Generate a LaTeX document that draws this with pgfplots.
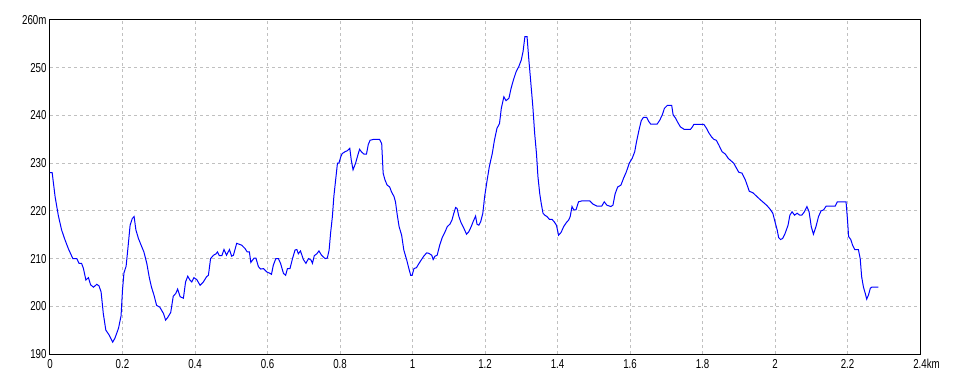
\documentclass[border=0pt]{standalone}
\usepackage{fontspec}
\setmainfont{Liberation Sans}[FakeStretch=0.75]
\usepackage{pgfplots}
\pgfplotsset{compat=1.18}
\definecolor{gridgray}{RGB}{192,192,192}
\begin{document}
\begin{tikzpicture}[x=1bp,y=1bp]
\path[use as bounding box] (-50,-30) rectangle (910,354);
\begin{axis}[at={(0,0)}, anchor=south west, scale only axis,
  width=870bp, height=334bp,
  xmin=0, xmax=2.4, ymin=190, ymax=260,
  xtick={0,0.2,0.4,0.6,0.8,1,1.2,1.4,1.6,1.8,2,2.2,2.4},
  xticklabels={0,0.2,0.4,0.6,0.8,1,1.2,1.4,1.6,1.8,2,2.2,2.4\rlap{km}},
  ytick={190,200,210,220,230,240,250,260},
  yticklabels={190,200,210,220,230,240,250,260m},
  grid=major,
  major grid style={gridgray, line width=1bp, dash pattern=on 3bp off 3bp},
  major tick length=0pt,
  axis line style={black, line width=1bp},
  tick label style={font=\fontsize{13}{13}\selectfont, black},
  xticklabel style={yshift=-2bp},
]
\addplot[blue, line width=1bp, no marks, sharp plot] coordinates {
(0.000,228) (0.006,228) (0.014,223) (0.023,219) (0.032,216) (0.041,214) (0.051,212) (0.057,211) (0.063,210) (0.074,210) (0.080,209) (0.087,209) (0.092,208) (0.099,205.5) (0.106,206) (0.112,204.5) (0.120,204) (0.129,204.6) (0.135,204.3) (0.141,203) (0.147,198.5) (0.154,195) (0.163,194) (0.173,192.5) (0.179,193.3) (0.189,195.4) (0.196,198) (0.200,203.4) (0.204,207) (0.210,208.4) (0.216,213) (0.221,217) (0.227,218.4) (0.232,218.8) (0.237,216) (0.244,214.2) (0.253,212.5) (0.259,211.4) (0.267,209) (0.274,206) (0.280,204) (0.287,202.3) (0.294,200.2) (0.303,199.8) (0.313,198.5) (0.319,197.1) (0.325,197.7) (0.333,198.7) (0.340,202.1) (0.347,202.7) (0.352,203.6) (0.359,202) (0.368,201.7) (0.374,205.1) (0.380,206.3) (0.386,205.5) (0.391,205.1) (0.397,206) (0.405,205.6) (0.414,204.4) (0.423,205.1) (0.432,206.2) (0.437,206.5) (0.443,210) (0.451,210.7) (0.458,211) (0.462,211.4) (0.467,210.6) (0.474,210.6) (0.480,211.9) (0.487,210.7) (0.495,211.9) (0.501,210.5) (0.506,210.7) (0.515,213.2) (0.529,212.8) (0.538,212.1) (0.544,211.4) (0.550,211.4) (0.554,209.2) (0.563,210.1) (0.568,210.1) (0.575,208.3) (0.581,207.8) (0.589,207.9) (0.598,207.2) (0.607,206.9) (0.611,206.7) (0.616,208.6) (0.623,210) (0.630,210) (0.636,209) (0.644,206.9) (0.650,206.5) (0.655,207.9) (0.662,207.9) (0.669,210) (0.676,211.8) (0.681,211.9) (0.685,211) (0.691,211.6) (0.699,209.8) (0.706,209) (0.713,210) (0.720,209.7) (0.724,209) (0.729,210.6) (0.736,211) (0.742,211.6) (0.749,210.7) (0.759,210) (0.765,210.1)
(0.770,211.8) (0.774,215.3) (0.779,218.8) (0.783,223) (0.788,226.5) (0.793,230) (0.797,230) (0.802,231.3) (0.806,232) (0.814,232.4) (0.820,232.6) (0.827,233.1) (0.831,230.7) (0.836,228.6) (0.843,230) (0.850,231.9) (0.854,232.9) (0.860,232.3) (0.866,231.9) (0.873,231.9) (0.878,233.9) (0.883,234.8) (0.894,235) (0.909,235) (0.915,234.1) (0.919,227.9) (0.924,226.5) (0.930,225.4) (0.937,225) (0.942,224) (0.949,223) (0.953,221.9) (0.958,219.1) (0.963,216.7) (0.970,214.9) (0.976,211.8) (0.984,209.7) (0.990,207.9) (0.995,206.5) (0.999,206.5) (1.004,207.9) (1.011,208.1) (1.018,209) (1.024,209.7) (1.031,210.5) (1.039,211.2) (1.045,211.1) (1.053,210.7) (1.057,209.8) (1.062,210.5) (1.068,210.7) (1.075,212.8) (1.082,214.4) (1.088,215.3) (1.096,216.7) (1.103,217.2) (1.109,218.1) (1.114,219.5) (1.119,220.7) (1.123,220.5) (1.128,218.8) (1.134,217.5) (1.142,216.3) (1.149,215.1) (1.155,215.6) (1.162,216.7) (1.167,217.7) (1.174,218.9) (1.178,217.2) (1.183,217) (1.188,217.7) (1.194,219.5) (1.199,223) (1.206,226.5) (1.212,229.3) (1.220,232) (1.226,234.8) (1.233,237.3) (1.240,238.3) (1.245,241.5) (1.252,243.9) (1.258,243.1) (1.266,243.6) (1.272,245.7) (1.279,247.6) (1.286,249.2) (1.293,250.2) (1.300,251.6) (1.305,253.4) (1.310,256.5) (1.316,256.5) (1.321,251.6) (1.325,248.1) (1.332,241.8) (1.337,236.2) (1.342,232) (1.346,227.2) (1.351,223.6) (1.355,221.6) (1.360,219.5) (1.365,219.1) (1.371,218.8) (1.378,218.2) (1.385,218.2) (1.391,217.7) (1.397,217) (1.403,214.9) (1.410,215.5) (1.417,216.7) (1.424,217.5) (1.431,218.1) (1.435,218.8) (1.440,220.9) (1.445,220.2) (1.451,220.2) (1.458,221.9) (1.468,222.1) (1.489,222.1) (1.498,221.4) (1.509,221) (1.522,221) (1.529,221.9) (1.536,221.2) (1.547,220.9) (1.553,221.2) (1.559,223.6) (1.566,225) (1.575,225.4) (1.582,226.8) (1.590,228.2) (1.598,230)
(1.606,231) (1.613,232.4) (1.618,234.5) (1.625,237) (1.631,238.9) (1.637,239.6) (1.646,239.6) (1.652,238.7) (1.657,238.2) (1.666,238.2) (1.675,238.2) (1.682,239) (1.689,240.1) (1.695,241.5) (1.703,242.1) (1.715,242.1) (1.719,240.1) (1.726,239.4) (1.732,238.5) (1.739,237.6) (1.749,237.1) (1.767,237.1) (1.772,237.6) (1.776,238.1) (1.804,238.1) (1.811,237.3) (1.817,236.4) (1.825,235.5) (1.831,235) (1.838,234.8) (1.845,233.8) (1.854,232.4) (1.863,231.9) (1.871,231) (1.880,230.4) (1.886,230) (1.894,228.9) (1.900,228.1) (1.909,227.9) (1.918,226.5) (1.925,225) (1.929,224.1) (1.939,223.8) (1.950,223) (1.960,222.3) (1.969,221.7) (1.978,221.1) (1.987,220.3) (1.994,219.5) (2.001,217.4) (2.006,216) (2.010,214.4) (2.015,214) (2.021,214.2) (2.028,215.3) (2.036,217) (2.041,219.1) (2.047,219.8) (2.054,219.1) (2.061,219.5) (2.068,219.1) (2.074,219.1) (2.081,219.8) (2.088,220.9) (2.094,219.8) (2.100,216.7) (2.106,215.1) (2.113,216.7) (2.120,218.8) (2.127,220) (2.134,220.2) (2.141,221) (2.152,221) (2.166,221) (2.172,221.9) (2.184,221.9) (2.196,221.9) (2.200,218.1) (2.203,214.6) (2.209,214) (2.214,212.8) (2.220,211.9) (2.230,211.9) (2.235,210) (2.239,206.2) (2.244,204) (2.249,202.7) (2.253,201.5) (2.258,202.4) (2.263,203.8) (2.267,204) (2.285,204)
};
\end{axis}
\end{tikzpicture}
\end{document}
